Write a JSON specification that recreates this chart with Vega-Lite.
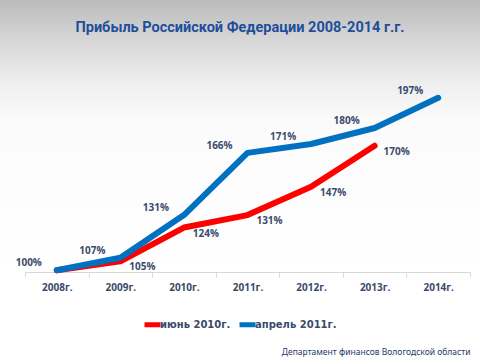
{
  "$schema": "https://vega.github.io/schema/vega-lite/v6.json",
  "width": 480,
  "height": 272,
  "autosize": {"type": "none"},
  "padding": {"left": 0, "top": 0, "right": 0, "bottom": 88},
  "background": "#ffffff",
  "config": {
    "view": {
      "stroke": null,
      "fill": {
        "gradient": "linear", "x1": 0, "y1": 0, "x2": 0, "y2": 1,
        "stops": [
          {"offset": 0, "color": "#bababa"},
          {"offset": 0.12, "color": "#d2d2d2"},
          {"offset": 0.3, "color": "#eeeeee"},
          {"offset": 0.45, "color": "#fbfbfb"},
          {"offset": 1, "color": "#ffffff"}
        ]
      }
    }
  },
  "title": {
    "text": "Прибыль Российской Федерации 2008-2014 г.г.",
    "anchor": "middle",
    "frame": "group",
    "offset": -46,
    "baseline": "alphabetic",
    "font": "Roboto",
    "fontSize": 14.5,
    "fontWeight": "bold",
    "color": "#1f4e9a"
  },
  "data": {
    "values": [
      {"year": "2008г.", "series": "июнь 2010г.", "value": 100, "label": "100%"},
      {"year": "2009г.", "series": "июнь 2010г.", "value": 105, "label": "105%"},
      {"year": "2010г.", "series": "июнь 2010г.", "value": 124, "label": "124%"},
      {"year": "2011г.", "series": "июнь 2010г.", "value": 131, "label": "131%"},
      {"year": "2012г.", "series": "июнь 2010г.", "value": 147, "label": "147%"},
      {"year": "2013г.", "series": "июнь 2010г.", "value": 170, "label": "170%"},
      {"year": "2008г.", "series": "апрель 2011г.", "value": 100, "label": "100%"},
      {"year": "2009г.", "series": "апрель 2011г.", "value": 107, "label": "107%"},
      {"year": "2010г.", "series": "апрель 2011г.", "value": 131, "label": "131%"},
      {"year": "2011г.", "series": "апрель 2011г.", "value": 166, "label": "166%"},
      {"year": "2012г.", "series": "апрель 2011г.", "value": 171, "label": "171%"},
      {"year": "2013г.", "series": "апрель 2011г.", "value": 180, "label": "180%"},
      {"year": "2014г.", "series": "апрель 2011г.", "value": 197, "label": "197%"}
    ]
  },
  "encoding": {
    "x": {
      "field": "year", "type": "ordinal",
      "scale": {"type": "band", "range": [25, 470], "paddingInner": 0, "paddingOuter": 0},
      "axis": {
        "orient": "bottom",
        "labelAngle": 0,
        "domainColor": "#d9d9d9",
        "tickColor": "#d9d9d9",
        "tickSize": 5,
        "tickBand": "extent",
        "labelFont": "Open Sans",
        "labelFontSize": 10,
        "labelFontWeight": "bold",
        "labelColor": "#3b4a6b",
        "labelPadding": 5,
        "title": "Департамент  финансов Вологодской области",
        "titleAnchor": "end",
        "titleFont": "Noto Sans",
        "titleFontSize": 8.5,
        "titleFontWeight": "normal",
        "titleColor": "#1f3a6b",
        "titlePadding": 55
      }
    },
    "y": {
      "field": "value", "type": "quantitative",
      "scale": {"domain": [99, 252], "nice": false, "zero": false},
      "axis": null
    }
  },
  "layer": [
    {
      "mark": {"type": "line", "strokeWidth": 6, "strokeCap": "round", "strokeJoin": "round"},
      "encoding": {
        "color": {
          "field": "series", "type": "nominal",
          "scale": {"domain": ["июнь 2010г.", "апрель 2011г."], "range": ["#ff0000", "#0070c0"]},
          "legend": {
            "orient": "none",
            "legendX": 142,
            "legendY": 314,
            "direction": "horizontal",
            "title": null,
            "symbolType": "stroke",
            "symbolStrokeWidth": 5,
            "symbolSize": 256,
            "labelFont": "DejaVu Sans",
            "labelFontSize": 10,
            "labelFontWeight": "bold",
            "labelColor": "#3b4a6b",
            "labelOffset": -3,
            "columnPadding": -2
          }
        }
      }
    },
    {
      "transform": [{"filter": "datum.series == 'апрель 2011г.'"}],
      "mark": {"type": "text", "dx": -28, "dy": -7, "font": "Open Sans", "fontSize": 10, "fontWeight": "bold", "color": "#3b4a6b"},
      "encoding": {"text": {"field": "label"}}
    },
    {
      "transform": [{"filter": "datum.series == 'июнь 2010г.' && datum.year != '2008г.'"}],
      "mark": {"type": "text", "dx": 22, "dy": 6, "font": "Open Sans", "fontSize": 10, "fontWeight": "bold", "color": "#3b4a6b"},
      "encoding": {"text": {"field": "label"}}
    }
  ]
}
